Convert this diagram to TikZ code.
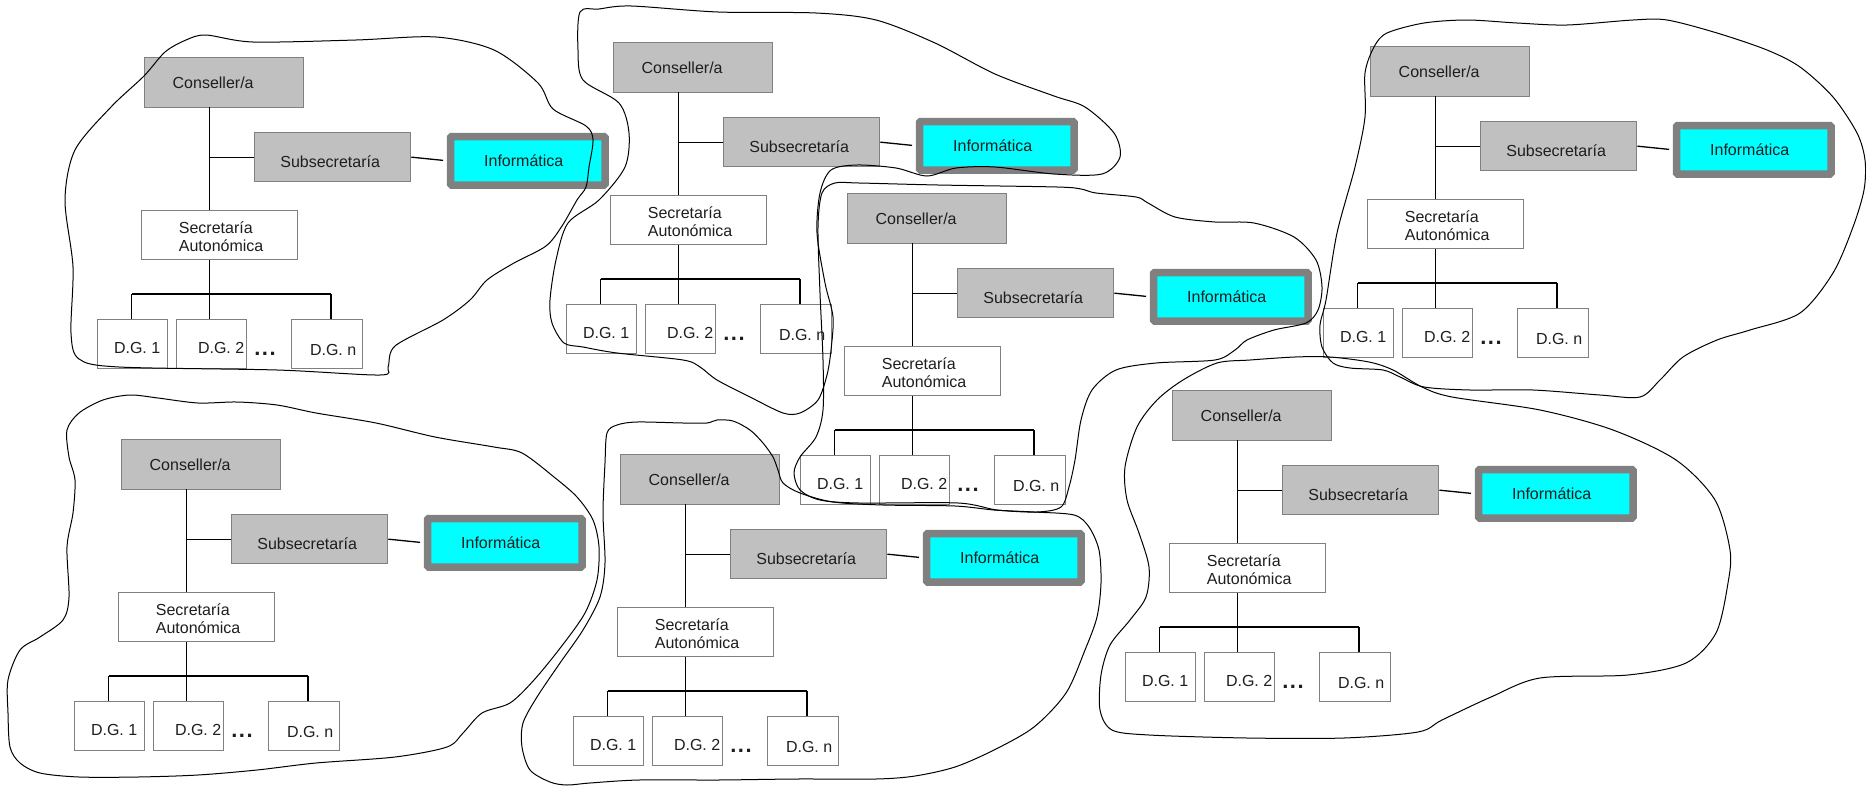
\documentclass[tikz,border=0pt]{standalone}
\usepackage{fontspec}
\setmainfont{Liberation Sans}
\definecolor{boxfill}{HTML}{C0C0C0}
\definecolor{boxline}{HTML}{808080}
\definecolor{infofill}{HTML}{00FFFF}
\definecolor{txt}{HTML}{1E1E1E}
\tikzset{
 orgbox/.style={draw=boxline, line width=1.3pt, anchor=north west, inner sep=0pt, text=txt,
   font=\fontsize{16}{18}\selectfont, text height=11.5pt, text depth=0pt},
 graybox/.style={orgbox, fill=boxfill},
 whitebox/.style={orgbox, fill=white},
 infobox/.style={orgbox, fill=infofill, line width=7.5pt, rounded corners=1.2pt},
 conn/.style={draw=black, line width=1.3pt},
 barline/.style={draw=black, line width=2pt},
 blob/.style={draw=black, line width=1pt},
 dotsnode/.style={inner sep=0pt, font=\fontsize{22}{22}\selectfont\bfseries, text=txt},
}
\newcommand\orgchart[3]{%
 \begin{scope}[shift={(#2,#3)}]
  \node[graybox, minimum width=159pt, minimum height=50pt] (#1con) at (0,0) {\hspace*{-22pt}Conseller/a};
  \node[graybox, minimum width=156pt, minimum height=49pt, text height=20.5pt] (#1sub) at (110,75) {\hspace*{-5pt}Subsecretaría};
  \node[infobox, minimum width=154.5pt, minimum height=48.5pt] (#1inf) at (302.75,75.75) {\hspace*{-8pt}Informática};
  \node[whitebox, minimum width=156pt, minimum height=49pt, text depth=14pt] (#1sec) at (-3,153)
     {\hspace*{3pt}\begin{tabular}[t]{@{}l@{}}Secretaría\\Autonómica\end{tabular}};
  \node[whitebox, minimum width=70.5pt, minimum height=49pt, text height=19.5pt] (#1dga) at (-47.5,262) {\hspace*{9.5pt}D.G. 1};
  \node[whitebox, minimum width=70.5pt, minimum height=49pt, text height=19.5pt] (#1dgb) at (31.5,262) {\hspace*{19.5pt}D.G. 2};
  \node[whitebox, minimum width=71pt, minimum height=49pt, text height=22.5pt] (#1dgn) at (147,262) {\hspace*{12pt}D.G. n};
  \node[dotsnode, anchor=base] (#1dots) at (121,298) {.\kern1.5pt.\kern1.5pt.};
  \coordinate (#1ta) at (65.5,50);
  \coordinate (#1bl) at (-12.25,237);
  \coordinate (#1br) at (187,237);
 \end{scope}
 \draw[conn] (#1ta) -- (#1ta |- #1sec.north);
 \draw[conn] (#1sub.west -| #1ta) -- (#1sub.west);
 \draw[conn, shorten >=3.75pt] (#1sub.east) -- (#1inf.west);
 \draw[conn] (#1sec.south -| #1ta) -- (#1ta |- #1dgb.north);
 \draw[barline] (#1bl) -- (#1br);
 \draw[conn] (#1bl) -- (#1bl |- #1dga.north);
 \draw[conn] (#1br) -- (#1br |- #1dgn.north);
}
\begin{document}
\begin{tikzpicture}[x=1pt, y=-1pt]
\useasboundingbox (0,0) rectangle (1866,787);
\fill[white] (0,0) rectangle (1866,787);

\orgchart{a}{144}{57}
\orgchart{b}{613}{42}
\orgchart{c}{847}{193}
\orgchart{d}{1370}{46}
\orgchart{e}{121}{439}
\orgchart{f}{620}{454}
\orgchart{g}{1172}{390}

% blob 1
\draw[blob] plot[smooth cycle] coordinates {(144,76) (165,52) (186,40) (206,35) (253,42) (356,40) (436,37) (494,50) (538,83) (553,109) (586,126) (593,140) (589,167) (586,187) (577,200) (562,226) (546,246) (514,263) (487,280) (470,300) (443,320) (395,346) (388,367) (380,375) (277,370) (119,367) (79,359) (71,333) (73,267) (65,200) (75,150) (111,107)};
% blob 2
\draw[blob] plot[smooth cycle] coordinates {(580,12) (599,9) (631,6) (718,12) (816,13) (876,20) (935,43) (995,74) (1054,96) (1085,107) (1114,133) (1120,157) (1102,174) (1054,174) (995,167) (956,168) (927,176) (896,168) (857,165) (831,170) (820,193) (817,233) (825,283) (833,317) (831,350) (827,375) (818,400) (800,413) (783,413) (750,397) (717,380) (700,367) (683,360) (617,353) (583,347) (564,343) (552,323) (550,300) (556,260) (568,223) (599,200) (625,167) (629,133) (619,103) (583,80) (578,50)};
% blob 3
\draw[blob] plot[smooth cycle] coordinates {(835,183) (859,183) (938,185) (1057,187) (1081,189) (1096,193) (1136,197) (1148,203) (1175,217) (1215,222) (1254,223) (1294,237) (1316,260) (1322,287) (1318,310) (1306,323) (1274,330) (1247,340) (1235,350) (1215,360) (1156,363) (1116,370) (1092,390) (1081,420) (1075,460) (1069,487) (1061,507) (1037,512) (997,510) (958,503) (859,503) (820,500) (800,490) (794,473) (800,457) (816,437) (823,410) (823,360) (820,293) (818,227) (822,193)};
% blob 4
\draw[blob] plot[smooth cycle] coordinates {(1374,47) (1387,33) (1424,23) (1467,20) (1517,23) (1567,25) (1633,20) (1667,20) (1717,33) (1767,50) (1800,67) (1833,97) (1857,133) (1865,160) (1864,190) (1853,227) (1833,273) (1800,313) (1750,330) (1717,340) (1683,357) (1660,380) (1640,397) (1600,395) (1533,390) (1470,390) (1424,387) (1400,377) (1383,370) (1350,368) (1333,363) (1322,347) (1320,325) (1326,300) (1337,233) (1355,167) (1365,117) (1365,73)};
% blob 5
\draw[blob] plot[smooth cycle] coordinates {(67,430) (79,413) (103,400) (130,395) (158,398) (198,403) (237,402) (277,405) (316,413) (376,423) (435,437) (494,447) (522,453) (554,477) (577,497) (593,520) (599,547) (597,580) (585,613) (561,647) (534,680) (510,703) (482,713) (463,733) (447,747) (395,757) (316,763) (257,770) (198,775) (138,777) (79,777) (40,773) (20,763) (10,747) (8,713) (8,680) (20,650) (40,637) (63,620) (69,597) (67,547) (73,513) (75,480) (69,457)};
% blob 6
\draw[blob] plot[smooth cycle] coordinates {(607,433) (617,425) (637,422) (683,423) (707,423) (717,420) (733,421) (750,430) (763,443) (773,457) (778,470) (783,483) (800,493) (833,502) (883,505) (955,506) (994,510) (1034,512) (1074,515) (1089,527) (1099,550) (1101,583) (1097,617) (1085,650) (1066,693) (1034,727) (994,750) (955,767) (915,776) (876,779) (797,779) (718,780) (639,780) (590,783) (567,785) (550,782) (530,770) (522,747) (523,723) (537,697) (560,663) (583,630) (600,597) (605,563) (603,513) (605,463)};
% blob 7
\draw[blob] plot[smooth cycle] coordinates {(1157,400) (1183,380) (1217,363) (1250,360) (1295,357) (1330,357) (1369,362) (1393,370) (1422,387) (1452,397) (1540,410) (1613,430) (1676,460) (1715,500) (1730,550) (1728,583) (1716,633) (1686,663) (1628,675) (1540,678) (1491,697) (1442,720) (1418,732) (1344,738) (1247,738) (1149,735) (1112,730) (1100,710) (1101,675) (1110,645) (1130,620) (1146,597) (1149,567) (1139,533) (1127,500) (1125,467) (1137,427)};
\end{tikzpicture}
\end{document}
